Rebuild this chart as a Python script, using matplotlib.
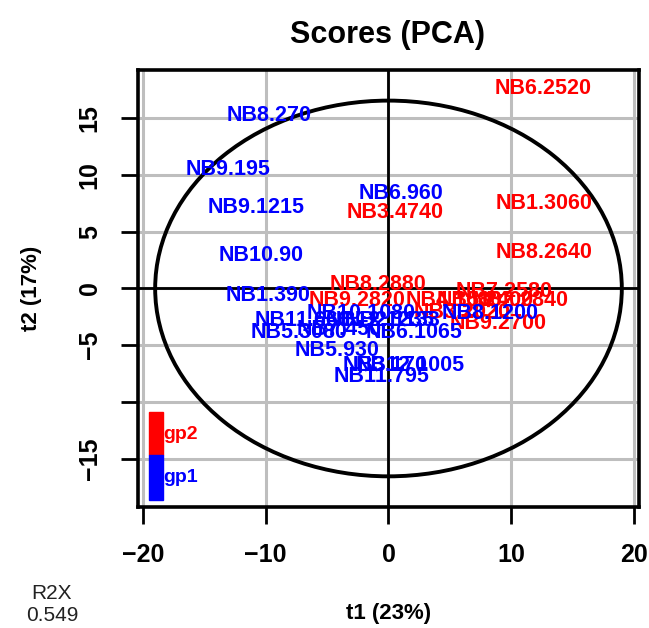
import numpy as np
import matplotlib.pyplot as plt
from matplotlib.patches import Ellipse, Rectangle

plt.rcParams['font.family'] = ['Liberation Sans', 'DejaVu Sans']

# sample scores: gp2 (red) and gp1 (blue)
gp2_names = ["NB6.2520", "NB1.3060", "NB3.4740", "NB8.2640", "NB8.2880", "NB9.2820",
             "NB4.1680", "NB7.2580", "NB5.2400", "NB2.2840", "NB3.2020", "NB9.2700"]
gp2_t1 = [12.6, 12.7, 0.55, 12.65, -0.85, -2.6, 5.3, 9.4, 7.9, 10.7, 6.0, 8.9]
gp2_t2 = [17.6, 7.5, 6.7, 3.2, 0.35, -1.1, -1.1, -0.25, -1.1, -1.1, -2.1, -3.1]

gp1_names = ["NB8.270", "NB9.195", "NB9.1215", "NB6.960", "NB10.90", "NB1.390",
             "NB10.1080", "NB8.1200", "NB11.660", "NB5.3080", "NB7.450", "NB12.1235",
             "NB2.1133", "NB6.1065", "NB5.930", "NB3.170", "NB12.1005", "NB11.795"]
gp1_t1 = [-9.7, -13.1, -10.8, 1.0, -10.4, -9.8, -2.25, 8.3, -7.0, -7.3, -4.0, -0.7,
          0.3, 2.1, -4.2, -0.3, 1.8, -0.55]
gp1_t2 = [15.2, 10.5, 7.1, 8.4, 2.9, -0.6, -2.2, -2.2, -2.8, -3.9, -3.6, -2.8,
          -2.8, -3.9, -5.5, -6.8, -6.8, -7.75]

xticks = [-20, -10, 0, 10, 20]
yticks = [15, 10, 5, 0, -5, -10, -15]
ytick_labels = ["15", "10", "5", "0", "\u22125", "", "\u221215"]

fig = plt.figure(figsize=(6.49, 6.28), dpi=100)
ax = fig.add_axes([0.2126, 0.1927, 0.772, 0.6959])
ax.set_xlim(-20.4, 20.4)
ax.set_ylim(-19.25, 19.25)

for x in xticks:
    ax.axvline(x, color="#BEBEBE", lw=2.2, zorder=0)
for y in yticks:
    ax.axhline(y, color="#BEBEBE", lw=2.2, zorder=0)
ax.axvline(0, color="black", lw=2, zorder=1)
ax.axhline(0, color="black", lw=2, zorder=1)

ax.add_patch(Ellipse((0, 0), 2 * 19.0, 2 * 16.55, fill=False, ec="black", lw=2.8, zorder=2))

for n, x, y in zip(gp2_names, gp2_t1, gp2_t2):
    ax.text(x, y, n, color="red", fontsize=15.5, fontweight="bold", ha="center", va="center", zorder=3)
for n, x, y in zip(gp1_names, gp1_t1, gp1_t2):
    ax.text(x, y, n, color="blue", fontsize=15.5, fontweight="bold", ha="center", va="center", zorder=3)

# group legend bar
ax.add_patch(Rectangle((0.022, 0.1195), 0.028, 0.0985, transform=ax.transAxes, color="red", zorder=4))
ax.add_patch(Rectangle((0.022, 0.016), 0.028, 0.1035, transform=ax.transAxes, color="blue", zorder=4))
ax.text(0.051, 0.1655, "gp2", transform=ax.transAxes, color="red", fontsize=14, fontweight="bold", va="center")
ax.text(0.051, 0.0667, "gp1", transform=ax.transAxes, color="blue", fontsize=14, fontweight="bold", va="center")

ax.set_xticks(xticks)
ax.set_xticklabels(["\u221220", "\u221210", "0", "10", "20"], fontsize=18, fontweight="bold")
ax.set_yticks(yticks)
ax.set_yticklabels(ytick_labels, fontsize=18, fontweight="bold", rotation=90, va="center")
ax.tick_params(length=12, width=2, pad=14)
for s in ax.spines.values():
    s.set_linewidth(2.6)

ax.set_xlabel("t1 (23%)", fontsize=16, fontweight="bold", labelpad=26)
ax.set_ylabel("t2 (17%)", fontsize=16, fontweight="bold", labelpad=26)
fig.text(0.5978, 0.944, "Scores (PCA)", fontsize=22, fontweight="bold", ha="center", va="center")
fig.text(0.08, 0.037, "R2X\n0.549", fontsize=15, ha="center", va="center", linespacing=1.2, color="#222222")

fig.savefig("out.png", dpi=100)
